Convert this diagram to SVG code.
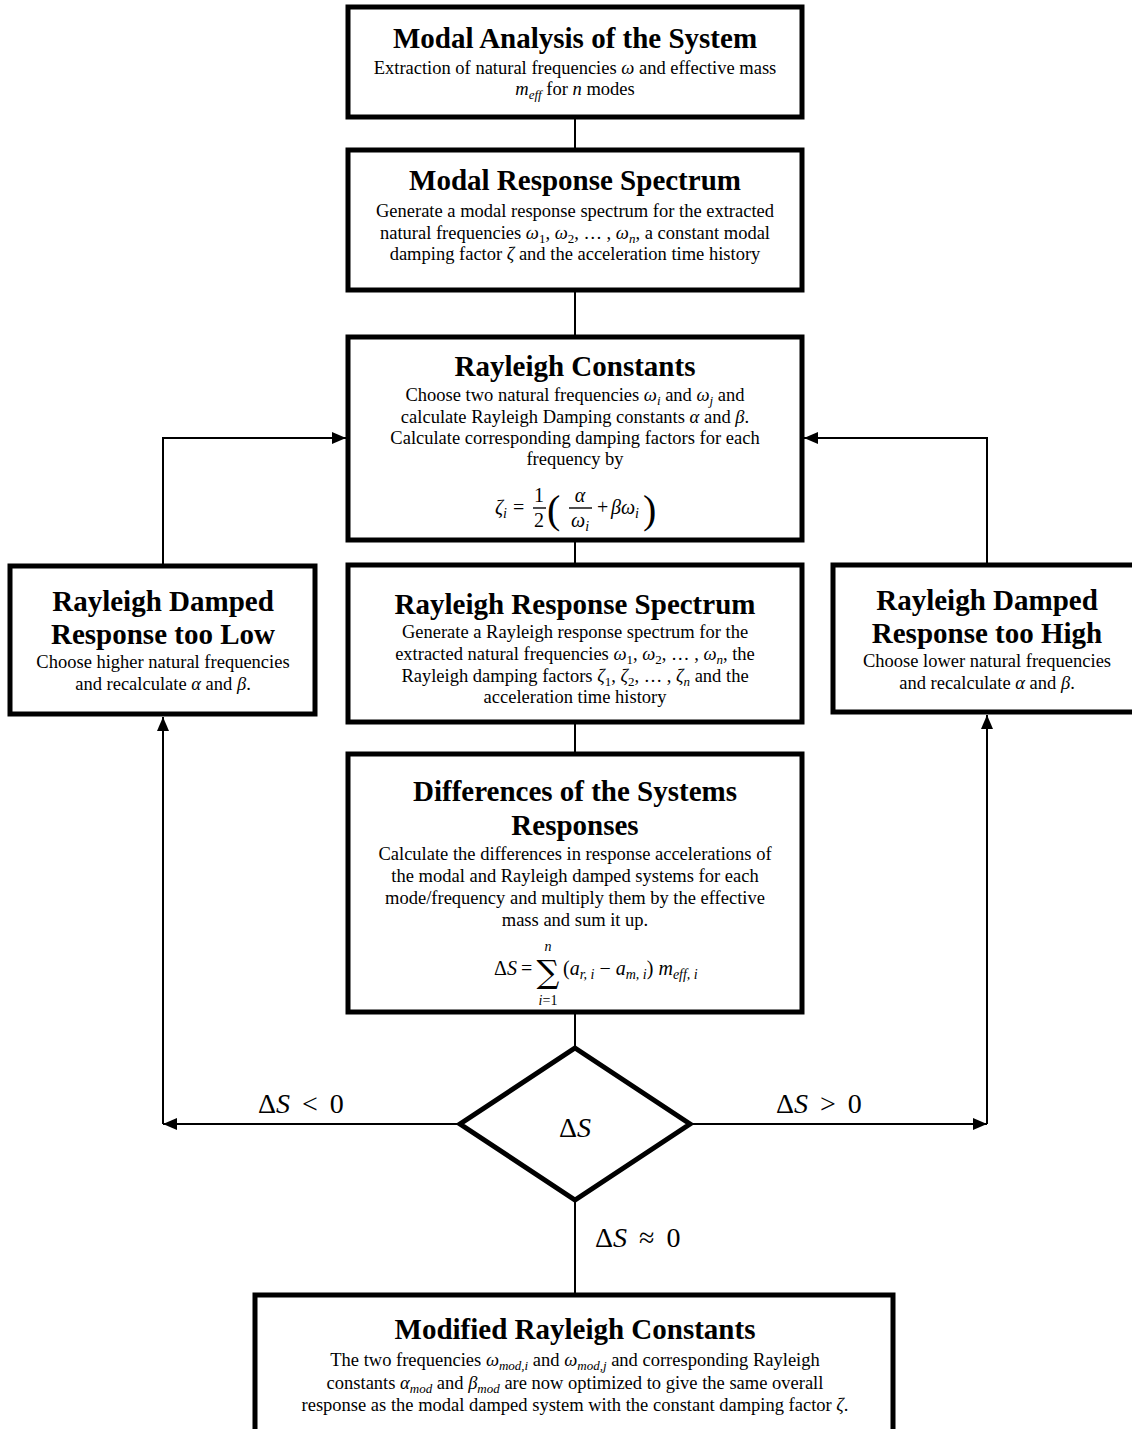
<svg xmlns="http://www.w3.org/2000/svg" width="1132" height="1429" viewBox="0 0 1132 1429">
<style>
.box{fill:#fff;stroke:#000;stroke-width:5}
.dia{fill:#fff;stroke:#000;stroke-width:5;stroke-linejoin:miter}
.conn{fill:none;stroke:#000;stroke-width:2}
.fl{stroke:#000;stroke-width:1.4}
text{font-family:"Liberation Serif","Times New Roman",serif;fill:#000}
.t{font-weight:bold;font-size:29px;text-anchor:middle}
.b{font-size:18.5px;text-anchor:middle}
.f{font-size:20px}
.c{text-anchor:middle}
.m{font-style:italic}
.s{font-size:13px}
.ss{font-size:14px}
.par{font-size:40px}
.lbl{font-size:28px}
</style>
<defs>
<marker id="arr" viewBox="0 0 14 12" refX="14" refY="6" markerWidth="14" markerHeight="12" markerUnits="userSpaceOnUse" orient="auto">
<path d="M0,0 L14,6 L0,12 z" fill="#000"/>
</marker>
</defs>

<g id="connectors">
<path class="conn" d="M575,117 V150"/>
<path class="conn" d="M575,290 V337"/>
<path class="conn" d="M575,540 V565"/>
<path class="conn" d="M575,722 V754"/>
<path class="conn" d="M575,1012 V1048"/>
<path class="conn" d="M575,1200 V1295"/>
<path class="conn" d="M163,566 V438 H346" marker-end="url(#arr)"/>
<path class="conn" d="M987,566 V438 H804" marker-end="url(#arr)"/>
<path class="conn" d="M462,1124 H163" marker-end="url(#arr)"/>
<path class="conn" d="M163,1124 V717" marker-end="url(#arr)"/>
<path class="conn" d="M688,1124 H987" marker-end="url(#arr)"/>
<path class="conn" d="M987,1124 V715" marker-end="url(#arr)"/>
<text class="lbl" x="258" y="1113"><tspan>Δ</tspan><tspan class="m">S</tspan><tspan dx="12">&lt;</tspan><tspan dx="12">0</tspan></text>
<text class="lbl" x="776" y="1113"><tspan>Δ</tspan><tspan class="m">S</tspan><tspan dx="12">&gt;</tspan><tspan dx="12">0</tspan></text>
<text class="lbl" x="595" y="1247"><tspan>Δ</tspan><tspan class="m">S</tspan><tspan dx="12">≈</tspan><tspan dx="12">0</tspan></text>
</g>

<g id="node-modal-analysis">
<rect class="box" x="348" y="7" width="454" height="110"/>
<text class="t" x="575" y="48">Modal Analysis of the System</text>
<text class="b" x="575" y="74">Extraction of natural frequencies <tspan class="m">ω</tspan> and effective mass</text>
<text class="b" x="575" y="95"><tspan class="m">m</tspan><tspan class="m s" dy="4">eff</tspan><tspan dy="-4"> for </tspan><tspan class="m">n</tspan> modes</text>
</g>

<g id="node-modal-spectrum">
<rect class="box" x="348" y="150" width="454" height="140"/>
<text class="t" x="575" y="190">Modal Response Spectrum</text>
<text class="b" x="575" y="217">Generate a modal response spectrum for the extracted</text>
<text class="b" x="575" y="239">natural frequencies <tspan class="m">ω</tspan><tspan class="s" dy="4">1</tspan><tspan dy="-4">, </tspan><tspan class="m">ω</tspan><tspan class="s" dy="4">2</tspan><tspan dy="-4">, … , </tspan><tspan class="m">ω</tspan><tspan class="m s" dy="4">n</tspan><tspan dy="-4">, a constant modal</tspan></text>
<text class="b" x="575" y="260">damping factor <tspan class="m">ζ</tspan> and the acceleration time history</text>
</g>

<g id="node-rayleigh-constants">
<rect class="box" x="348" y="337" width="454" height="203"/>
<text class="t" x="575" y="376">Rayleigh Constants</text>
<text class="b" x="575" y="401">Choose two natural frequencies <tspan class="m">ω</tspan><tspan class="m s" dy="4">i</tspan><tspan dy="-4"> and </tspan><tspan class="m">ω</tspan><tspan class="m s" dy="4">j</tspan><tspan dy="-4"> and</tspan></text>
<text class="b" x="575" y="423">calculate Rayleigh Damping constants <tspan class="m">α</tspan> and <tspan class="m">β</tspan>.</text>
<text class="b" x="575" y="444">Calculate corresponding damping factors for each</text>
<text class="b" x="575" y="465">frequency by</text>
<text class="f m" x="495" y="514">ζ<tspan class="ss" dy="4">i</tspan></text>
<text class="f" x="513" y="514">=</text>
<text class="f c" x="539" y="502">1</text>
<line class="fl" x1="533" y1="508" x2="546" y2="508"/>
<text class="f c" x="539" y="527">2</text>
<text class="par" x="547" y="523">(</text>
<text class="f m c" x="580" y="502">α</text>
<line class="fl" x1="569" y1="508" x2="592" y2="508"/>
<text class="f m" x="571" y="527">ω<tspan class="ss" dy="4">i</tspan></text>
<text class="f" x="597" y="514">+</text>
<text class="f m" x="611" y="514">βω<tspan class="ss" dy="4">i</tspan></text>
<text class="par" x="643" y="523">)</text>
</g>

<g id="node-rayleigh-spectrum">
<rect class="box" x="348" y="565" width="454" height="157"/>
<text class="t" x="575" y="614">Rayleigh Response Spectrum</text>
<text class="b" x="575" y="638">Generate a Rayleigh response spectrum for the</text>
<text class="b" x="575" y="660">extracted natural frequencies <tspan class="m">ω</tspan><tspan class="s" dy="4">1</tspan><tspan dy="-4">, </tspan><tspan class="m">ω</tspan><tspan class="s" dy="4">2</tspan><tspan dy="-4">, … , </tspan><tspan class="m">ω</tspan><tspan class="m s" dy="4">n</tspan><tspan dy="-4">, the</tspan></text>
<text class="b" x="575" y="682">Rayleigh damping factors <tspan class="m">ζ</tspan><tspan class="s" dy="4">1</tspan><tspan dy="-4">, </tspan><tspan class="m">ζ</tspan><tspan class="s" dy="4">2</tspan><tspan dy="-4">, … , </tspan><tspan class="m">ζ</tspan><tspan class="m s" dy="4">n</tspan><tspan dy="-4"> and the</tspan></text>
<text class="b" x="575" y="703">acceleration time history</text>
</g>

<g id="node-too-low">
<rect class="box" x="10" y="566" width="305" height="148"/>
<text class="t" x="163" y="611">Rayleigh Damped</text>
<text class="t" x="163" y="644">Response too Low</text>
<text class="b" x="163" y="668">Choose higher natural frequencies</text>
<text class="b" x="163" y="690">and recalculate <tspan class="m">α</tspan> and <tspan class="m">β</tspan>.</text>
</g>

<g id="node-too-high">
<rect class="box" x="833" y="565" width="310" height="147"/>
<text class="t" x="987" y="610">Rayleigh Damped</text>
<text class="t" x="987" y="643">Response too High</text>
<text class="b" x="987" y="667">Choose lower natural frequencies</text>
<text class="b" x="987" y="689">and recalculate <tspan class="m">α</tspan> and <tspan class="m">β</tspan>.</text>
</g>

<g id="node-differences">
<rect class="box" x="348" y="754" width="454" height="258"/>
<text class="t" x="575" y="801">Differences of the Systems</text>
<text class="t" x="575" y="835">Responses</text>
<text class="b" x="575" y="860">Calculate the differences in response accelerations of</text>
<text class="b" x="575" y="882">the modal and Rayleigh damped systems for each</text>
<text class="b" x="575" y="904">mode/frequency and multiply them by the effective</text>
<text class="b" x="575" y="926">mass and sum it up.</text>
<text class="f" x="494" y="975">Δ<tspan class="m">S</tspan></text>
<text class="f" x="521" y="975">=</text>
<text x="548" y="983" style="font-family:'DejaVu Serif',serif;font-size:32px;text-anchor:middle">∑</text>
<text class="m c" x="548" y="951" style="font-size:14px">n</text>
<text class="c" x="548" y="1005" style="font-size:14px"><tspan class="m">i</tspan>=1</text>
<text class="f" x="563" y="975">(<tspan class="m">a</tspan><tspan class="m ss" dy="4">r, i</tspan><tspan dy="-4"> − </tspan><tspan class="m">a</tspan><tspan class="m ss" dy="4">m, i</tspan><tspan dy="-4">) </tspan><tspan class="m">m</tspan><tspan class="m ss" dy="4">eff, i</tspan></text>
</g>

<g id="node-decision">
<polygon class="dia" points="575,1048 690,1124 575,1200 460,1124"/>
<text class="lbl" x="575" y="1137" style="text-anchor:middle">Δ<tspan class="m">S</tspan></text>
</g>

<g id="node-modified">
<rect class="box" x="255" y="1295" width="638" height="150"/>
<text class="t" x="575" y="1339">Modified Rayleigh Constants</text>
<text class="b" x="575" y="1366">The two frequencies <tspan class="m">ω</tspan><tspan class="m s" dy="4">mod,i</tspan><tspan dy="-4"> and </tspan><tspan class="m">ω</tspan><tspan class="m s" dy="4">mod,j</tspan><tspan dy="-4"> and corresponding Rayleigh</tspan></text>
<text class="b" x="575" y="1389">constants <tspan class="m">α</tspan><tspan class="m s" dy="4">mod</tspan><tspan dy="-4"> and </tspan><tspan class="m">β</tspan><tspan class="m s" dy="4">mod</tspan><tspan dy="-4"> are now optimized to give the same overall</tspan></text>
<text class="b" x="575" y="1411">response as the modal damped system with the constant damping factor <tspan class="m">ζ</tspan>.</text>
</g>
</svg>
